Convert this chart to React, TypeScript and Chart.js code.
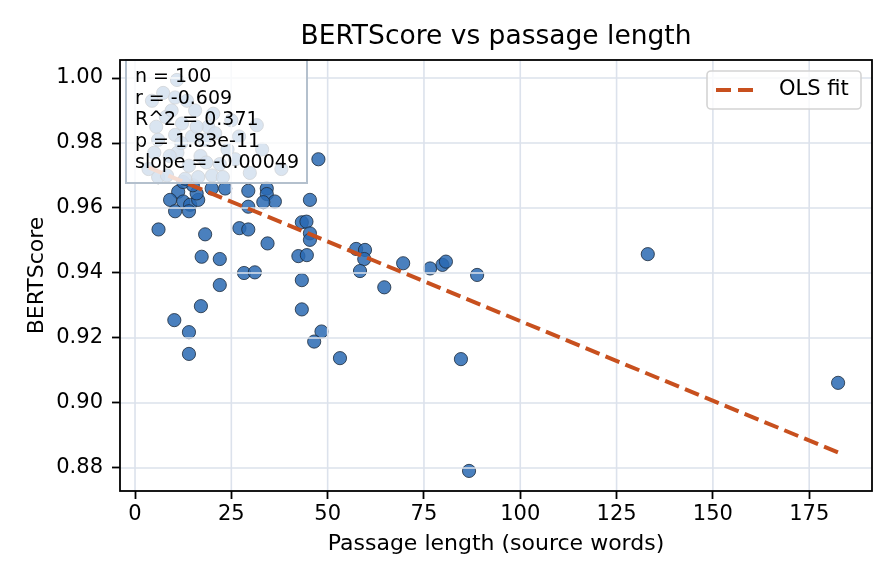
import React, { useEffect, useRef } from 'react';
import { Chart, registerables } from 'chart.js';

Chart.register(...registerables);

// source passage length (words) per item
const passageLengths = [
  47.6, 11.2, 9.1, 12.5, 14.3, 10.4, 14.0, 16.4, 16.0, 19.9,
  23.4, 29.4, 34.2, 34.2, 36.3, 33.3, 29.4, 45.4, 6.1, 18.2,
  27.1, 29.4, 34.4, 43.3, 44.5, 45.4, 45.4, 17.3, 22.0, 42.4,
  44.6, 28.3, 31.1, 22.0, 43.3, 17.1, 43.3, 10.2, 14.0, 14.0,
  48.4, 46.5, 53.2, 57.4, 59.7, 59.5, 58.4, 64.7, 69.6, 76.6,
  79.8, 80.7, 88.8, 84.6, 86.7, 133.1, 182.5, 15.0, 12.5,
  4.4, 7.3, 10.4, 10.9, 12.2, 15.6, 19.0, 5.5, 6.0, 10.4,
  14.8, 18.0, 20.8, 6.0, 8.3, 13.0, 16.4, 20.0, 20.3, 22.8,
  29.8, 31.6, 8.0, 13.5, 17.0, 11.0, 24.0, 27.0, 9.0, 14.0,
  18.5, 22.0, 26.0, 38.0, 33.0, 5.0, 12.0, 16.0, 25.0, 9.5, 3.5,
];

// BERTScore per item
const bertScores = [
  0.975, 0.965, 0.9625, 0.962, 0.961, 0.959, 0.959, 0.9625, 0.9645, 0.966,
  0.966, 0.9653, 0.966, 0.9643, 0.962, 0.9618, 0.9604, 0.9625, 0.9534, 0.9519,
  0.9538, 0.9534, 0.9491, 0.9556, 0.9558, 0.9522, 0.9502, 0.945, 0.9443, 0.9452,
  0.9455, 0.94, 0.9402, 0.9363, 0.9378, 0.9298, 0.9288, 0.9255, 0.9218, 0.9151,
  0.922, 0.9189, 0.9138, 0.9474, 0.9471, 0.9443, 0.9406, 0.9356, 0.943, 0.9414,
  0.9425, 0.9435, 0.9394, 0.9135, 0.8791, 0.9458, 0.9062, 0.967, 0.968,
  0.993, 0.9954, 0.994, 0.9994, 0.986, 0.99, 0.985, 0.985, 0.981, 0.9825,
  0.982, 0.981, 0.983, 0.9695, 0.97, 0.969, 0.9695, 0.97, 0.989, 0.9695,
  0.9708, 0.9855, 0.988, 0.993, 0.976, 0.977, 0.978, 0.982, 0.976, 0.973,
  0.974, 0.9735, 0.975, 0.972, 0.978, 0.977, 0.98, 0.985, 0.987, 0.99, 0.972,
];

const xTicks = [0, 25, 50, 75, 100, 125, 150, 175];
const yTicks = [0.88, 0.9, 0.92, 0.94, 0.96, 0.98, 1.0];

const statsLines = ['n = 100', 'r = -0.609', 'R^2 = 0.371', 'p = 1.83e-11', 'slope = -0.00049'];

const fitSlope = -0.00049;
const fitIntercept = 0.9742;

const FONT = "'DejaVu Sans', sans-serif";
const GRID = '#dce2ec';
const FIT_COLOR = '#c8501e';

const overlay = {
  id: 'overlay',
  afterDatasetDraw(chart: any, args: any) {
    // matplotlib grid sits above the scatter, below the fit line
    if (args.index !== 0) return;
    const { ctx, chartArea: a, scales } = chart;
    ctx.save();
    ctx.strokeStyle = GRID;
    ctx.lineWidth = 1.6;
    ctx.beginPath();
    xTicks.forEach((v) => {
      const px = scales.x.getPixelForValue(v);
      ctx.moveTo(px, a.top);
      ctx.lineTo(px, a.bottom);
    });
    yTicks.forEach((v) => {
      const py = scales.y.getPixelForValue(v);
      ctx.moveTo(a.left, py);
      ctx.lineTo(a.right, py);
    });
    ctx.stroke();
    ctx.restore();
  },
  afterDraw(chart: any) {
    const { ctx, chartArea: a } = chart;
    ctx.save();

    // title, centred over the axes
    ctx.fillStyle = '#000';
    ctx.font = `26.5px ${FONT}`;
    ctx.textAlign = 'center';
    ctx.textBaseline = 'middle';
    ctx.fillText('BERTScore vs passage length', (a.left + a.right) / 2, a.top - 23);

    // stats box
    const bx = a.left + 6, by = a.top, bw = 181, bh = 123;
    ctx.fillStyle = 'rgba(255,255,255,0.8)';
    ctx.fillRect(bx, by, bw, bh);
    ctx.strokeStyle = '#b4c0cd';
    ctx.lineWidth = 2;
    ctx.strokeRect(bx, by, bw, bh);
    ctx.fillStyle = '#000';
    ctx.font = `19px ${FONT}`;
    ctx.textAlign = 'left';
    statsLines.forEach((s, i) => ctx.fillText(s, bx + 9, by + 17 + i * 21.6));

    // legend
    const lw = 154, lh = 38;
    const lx = a.right - 11 - lw, ly = a.top + 11;
    ctx.beginPath();
    ctx.roundRect(lx, ly, lw, lh, 4);
    ctx.fillStyle = 'rgba(255,255,255,0.8)';
    ctx.fill();
    ctx.strokeStyle = '#d4d4d4';
    ctx.lineWidth = 1.6;
    ctx.stroke();
    ctx.beginPath();
    ctx.setLineDash([15, 7]);
    ctx.strokeStyle = FIT_COLOR;
    ctx.lineWidth = 4;
    ctx.moveTo(lx + 9, ly + lh / 2);
    ctx.lineTo(lx + 52, ly + lh / 2);
    ctx.stroke();
    ctx.setLineDash([]);
    ctx.fillStyle = '#000';
    ctx.font = `21px ${FONT}`;
    ctx.fillText('OLS fit', lx + 72, ly + lh / 2);

    // spines
    ctx.strokeStyle = '#000';
    ctx.lineWidth = 1.8;
    ctx.strokeRect(a.left, a.top, a.right - a.left, a.bottom - a.top);
    ctx.restore();
  },
};

export default function App() {
  const canvasRef = useRef<HTMLCanvasElement>(null);

  useEffect(() => {
    if (!canvasRef.current) return;
    document.body.style.margin = '0';

    const points = passageLengths.map((x, i) => ({ x, y: bertScores[i] }));
    const xMin = Math.min(...passageLengths);
    const xMax = Math.max(...passageLengths);
    const fit = [xMin, xMax].map((x) => ({ x, y: fitIntercept + fitSlope * x }));

    const tickFont = { family: FONT, size: 21 };
    const titleFont = { family: FONT, size: 22 };

    const chart = new Chart(canvasRef.current, {
      type: 'scatter',
      data: {
        datasets: [
          {
            label: 'items',
            data: points,
            backgroundColor: 'rgba(42,106,179,0.85)',
            borderColor: '#1c2a3a',
            borderWidth: 0.8,
            pointRadius: 6.6,
            order: 1,
          },
          {
            label: 'OLS fit',
            data: fit,
            showLine: true,
            pointRadius: 0,
            borderColor: FIT_COLOR,
            borderWidth: 4,
            borderDash: [15, 6.5],
            order: 0,
          },
        ],
      },
      plugins: [overlay],
      options: {
        animation: false,
        responsive: false,
        devicePixelRatio: 1,
        layout: { padding: { top: 60, right: 24, bottom: 0, left: 0 } },
        plugins: {
          legend: { display: false },
          tooltip: { enabled: false },
          title: { display: false },
        },
        scales: {
          x: {
            type: 'linear',
            min: -3.9,
            max: 191.3,
            afterBuildTicks: (s: any) => { s.ticks = xTicks.map((value) => ({ value })); },
            afterFit: (s: any) => { s.height = 93; },
            grid: { drawOnChartArea: false, drawTicks: true, tickLength: 8, tickColor: '#000', tickWidth: 1.8 },
            border: { display: false },
            ticks: { color: '#000', font: tickFont, padding: 3, maxRotation: 0, callback: (v: any) => String(v) },
            title: { display: true, text: 'Passage length (source words)', color: '#000', font: titleFont, padding: { top: 0, bottom: 27 } },
          },
          y: {
            type: 'linear',
            min: 0.87292,
            max: 1.00554,
            afterBuildTicks: (s: any) => { s.ticks = yTicks.map((value) => ({ value })); },
            afterFit: (s: any) => { s.width = 120; },
            grid: { drawOnChartArea: false, drawTicks: true, tickLength: 8, tickColor: '#000', tickWidth: 1.8 },
            border: { display: false },
            ticks: { color: '#000', font: tickFont, padding: 9, callback: (v: any) => Number(v).toFixed(2) },
            title: { display: true, text: 'BERTScore', color: '#000', font: titleFont, padding: { top: 24, bottom: 0 } },
          },
        },
      },
    });

    return () => chart.destroy();
  }, []);

  return (
    <div style={{ width: 896, height: 584, background: '#fff' }}>
      <canvas ref={canvasRef} width={896} height={584} style={{ width: 896, height: 584 }} />
    </div>
  );
}
